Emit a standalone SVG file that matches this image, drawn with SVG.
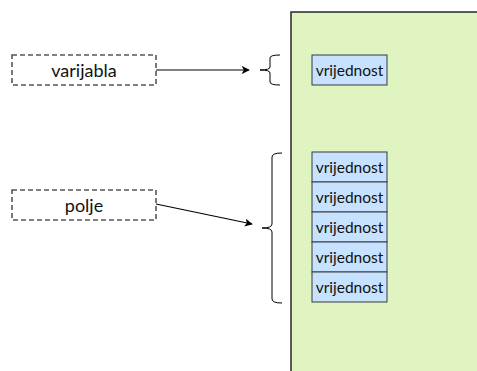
<svg xmlns="http://www.w3.org/2000/svg" width="477" height="371" viewBox="0 0 477 371">
<defs>
<style>
.lbl{font-family:Lato,"Open Sans","Liberation Sans",sans-serif;fill:#111;text-anchor:middle;dominant-baseline:central}
.dash{fill:#fff;stroke:#555;stroke-width:1.6;stroke-dasharray:5 3}
.val{fill:#c6e2ff;stroke:#36393d;stroke-width:1}
.brace{fill:none;stroke:#000;stroke-width:1}
.conn{fill:none;stroke:#000;stroke-width:1.2;marker-end:url(#arr)}
</style>
<marker id="arr" viewBox="0 0 10 10" refX="9" refY="5" markerWidth="8" markerHeight="8" markerUnits="userSpaceOnUse" orient="auto">
<path d="M0,0 L10,5 L0,10 L2.5,5 Z" fill="#000"/>
</marker>
</defs>
<rect x="0" y="0" width="477" height="371" fill="#fff"/>
<g id="memory">
<rect x="291" y="12" width="200" height="380" fill="#dff4c1" stroke="#333" stroke-width="1.6"/>
</g>
<g id="varijabla">
<rect class="dash" x="12" y="55" width="144" height="30"/>
<text class="lbl" x="84" y="70" font-size="18">varijabla</text>
</g>
<g id="polje">
<rect class="dash" x="12" y="190" width="144" height="30"/>
<text class="lbl" x="84" y="205" font-size="18">polje</text>
</g>
<g id="val0">
<rect class="val" x="312" y="55" width="75" height="30"/>
<text class="lbl" x="349.5" y="70" font-size="15.5">vrijednost</text>
</g>
<g id="val1">
<rect class="val" x="312" y="152" width="75" height="30"/>
<text class="lbl" x="349.5" y="167" font-size="15.5">vrijednost</text>
</g>
<g id="val2">
<rect class="val" x="312" y="182" width="75" height="30"/>
<text class="lbl" x="349.5" y="197" font-size="15.5">vrijednost</text>
</g>
<g id="val3">
<rect class="val" x="312" y="212" width="75" height="30"/>
<text class="lbl" x="349.5" y="227" font-size="15.5">vrijednost</text>
</g>
<g id="val4">
<rect class="val" x="312" y="242" width="75" height="30"/>
<text class="lbl" x="349.5" y="257" font-size="15.5">vrijednost</text>
</g>
<g id="val5">
<rect class="val" x="312" y="272" width="75" height="30"/>
<text class="lbl" x="349.5" y="287" font-size="15.5">vrijednost</text>
</g>
<g id="brace1">
<path class="brace" d="M280,55 Q270,55 270,58 L270,67 Q270,70 260,70 Q270,70 270,73 L270,82 Q270,85 280,85"/>
</g>
<g id="brace2">
<path class="brace" d="M282,153 Q272,153 272,157 L272,224 Q272,228 262,228 Q272,228 272,232 L272,299 Q272,303 282,303"/>
</g>
<g id="connectors">
<line class="conn" x1="156" y1="70" x2="249" y2="70"/>
<line class="conn" x1="156" y1="204" x2="252" y2="224"/>
</g>
</svg>
